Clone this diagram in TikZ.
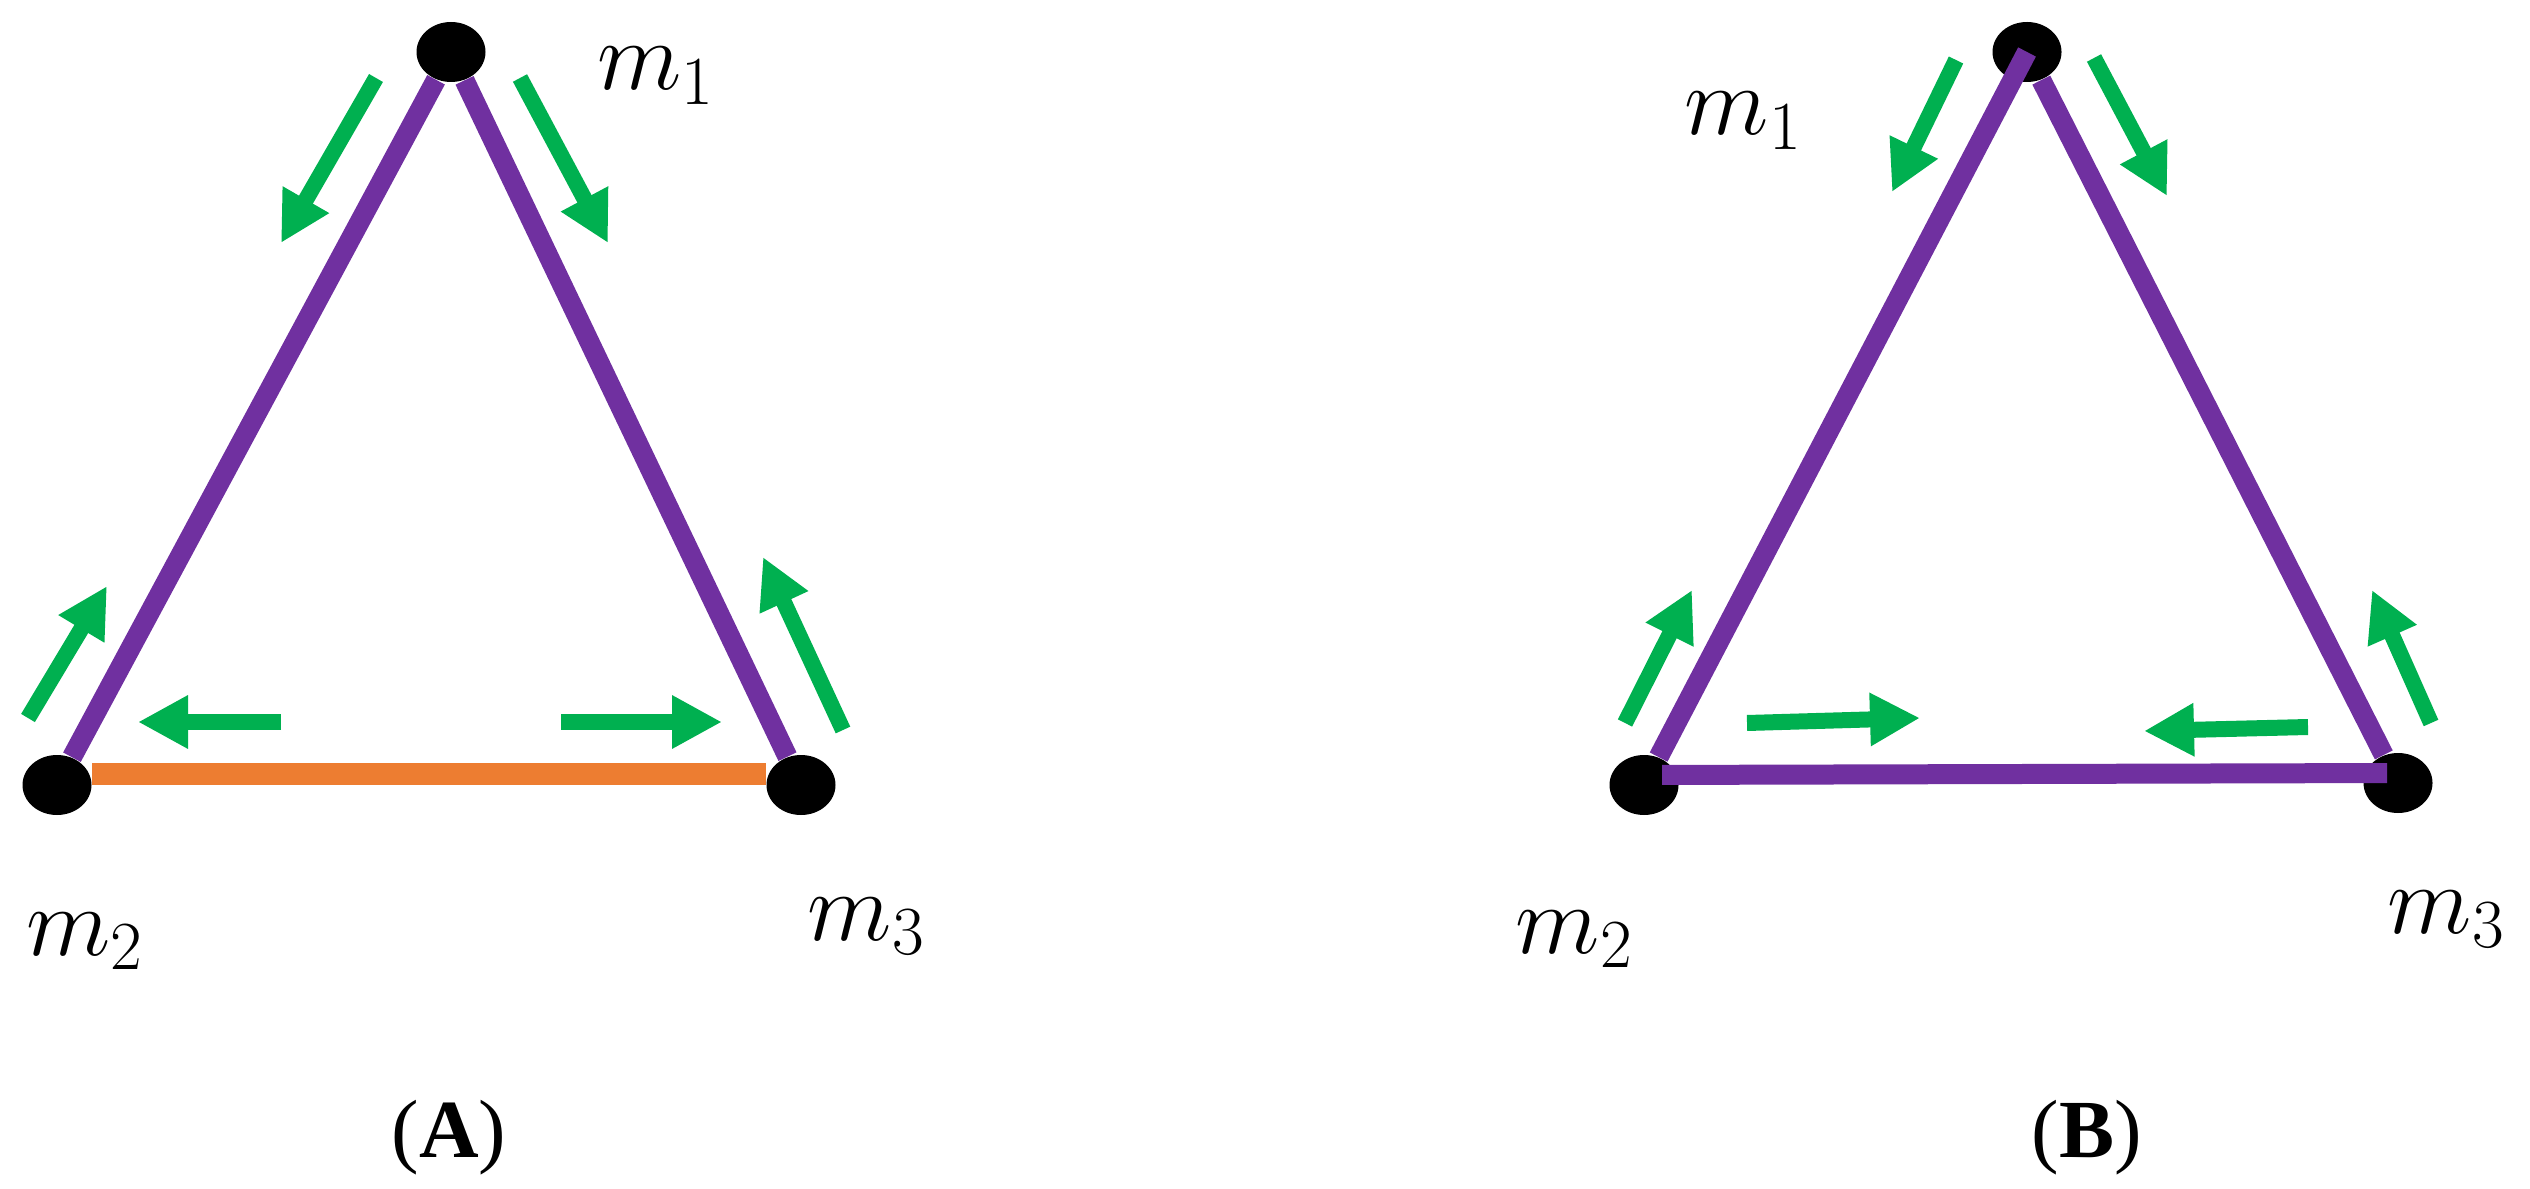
\RequirePackage{fix-cm}
\documentclass[tikz,border=0pt]{standalone}
\usepackage{fontspec}
\setmainfont{Liberation Serif}
\usepackage{tikz}
\usetikzlibrary{shapes.geometric, arrows.meta}
\definecolor{bondpurple}{HTML}{7030A0}
\definecolor{bondorange}{HTML}{ED7D31}
\definecolor{forcegreen}{HTML}{00B050}
\tikzset{
mass/.style={ellipse, fill=black, minimum width=6.9mm, minimum height=6mm, inner sep=0pt}, % the point masses
bond/.style={line width=2mm, draw=bondpurple}, % purple bond between two masses
weakbond/.style={line width=2.2mm, draw=bondorange}, % the orange bond in (A)
force/.style={-{Triangle[length=5mm, width=5mm]}, line width=1.6mm, draw=forcegreen}, % green force arrows
masslabel/.style={anchor=base west, inner sep=0pt, font=\fontsize{28}{34}\selectfont},
caption/.style={anchor=base, inner sep=0pt, font=\fontsize{23.5}{28}\selectfont},
}

\begin{document}
\begin{tikzpicture}[x=0.1mm, y=-0.1mm]
    \useasboundingbox (0,0) rectangle (2530,1189);

    % panel (A)
    \node[mass] (a1) at (451,52) {};
    \node[mass] (a2) at (57,785) {};
    \node[mass] (a3) at (801,785) {};

    \draw[bond] (a1) -- (a2);
    \draw[bond] (a1) -- (a3);
    \draw[weakbond] ([yshift=1.1mm]a2.east) -- ([yshift=1.1mm]a3.west);

    \draw[force] (376,78) -- (281,243);
    \draw[force] (520,78) -- (608,243);
    \draw[force] (28,718) -- (107,586);
    \draw[force] (843,730) -- (763,557);
    \draw[force] (281,722) -- (138,722);
    \draw[force] (561,722) -- (722,722);

    \node[masslabel] (la1) at (597,90) {$m_1$};
    \node[masslabel] (la2) at (26,955) {$m_2$};
    \node[masslabel] (la3) at (807,940) {$m_3$};
    \node[caption] (capA) at (449,1157) {(\textbf{A})};

    % panel (B)
    \node[mass] (b1) at (2027,52) {};
    \node[mass] (b2) at (1644,785) {};
    \node[mass] (b3) at (2398,783) {};

    \draw[bond] (b1.center) -- (b2);
    \draw[bond] (b1) -- (b3);
    \draw[bond, shorten <=1.8mm, shorten >=1.1mm] ([yshift=1mm]b2.center) -- ([yshift=1mm]b3.center);

    \draw[force] (1956,60) -- (1892,192);
    \draw[force] (2094,58) -- (2167,196);
    \draw[force] (1625,723) -- (1692,590);
    \draw[force] (2431,723) -- (2372,590);
    \draw[force] (1747,723) -- (1920,718);
    \draw[force] (2308,727) -- (2144,731);

    \node[masslabel] (lb1) at (1684,135) {$m_1$};
    \node[masslabel] (lb2) at (1515,953) {$m_2$};
    \node[masslabel] (lb3) at (2387,933) {$m_3$};
    \node[caption] (capB) at (2087,1157) {(\textbf{B})};
\end{tikzpicture}
\end{document}
